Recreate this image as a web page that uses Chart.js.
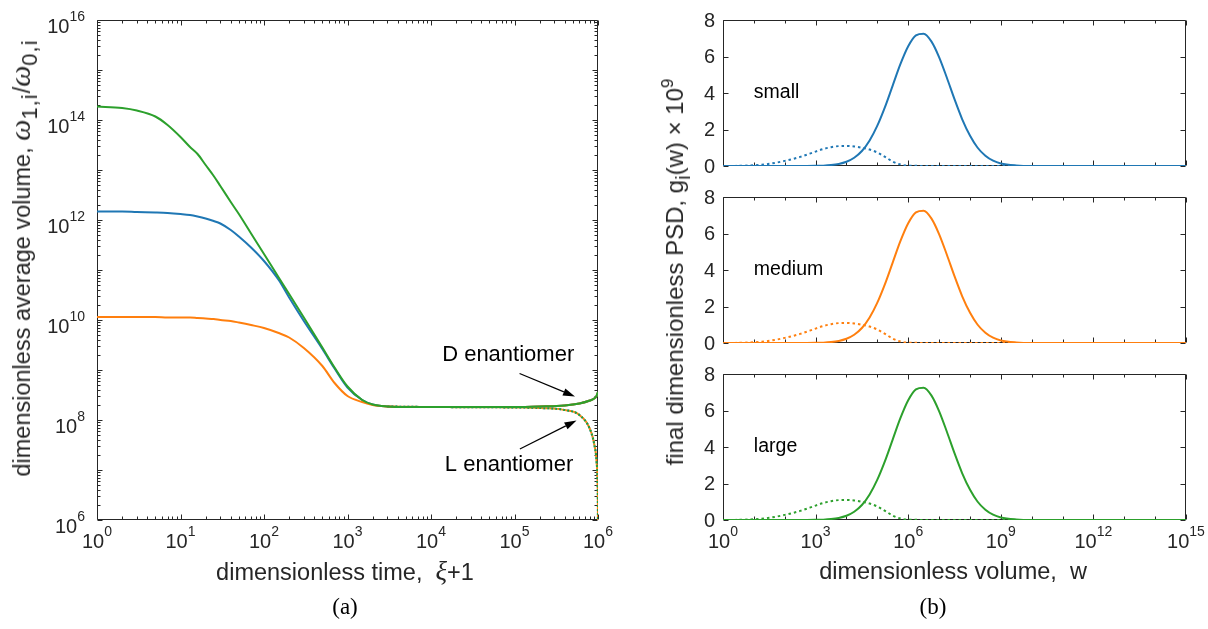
<!DOCTYPE html>
<html>
<head>
<meta charset="utf-8">
<title>Average volume and final PSD</title>
<script src="https://cdn.jsdelivr.net/npm/chart.js@4.4.1/dist/chart.umd.min.js"></script>
<style>
  html, body { margin: 0; background: #fff; }
  body { position: relative; width: 1208px; height: 629px; overflow: hidden;
         font-family: "Liberation Sans", Arial, sans-serif; color: #262626; }
  canvas { position: absolute; left: 0; top: 0; }
  .txt { position: absolute; white-space: nowrap; font-size: 23.5px; line-height: 26px;
         transform: translate(-50%, -50%); }
  .up { transform: translate(-50%, -50%) rotate(-90deg); }
  .gk { font-family: "Liberation Serif", serif; font-style: italic; font-size: 27px; }
  .big .gk { font-size: 30px; }
  .txt sub { font-size: 20px; line-height: 0; vertical-align: -7px; }
  .big sub { font-size: 22px; letter-spacing: 1px; }
  .txt sup { font-size: 17px; line-height: 0; vertical-align: 10px; }
  .cap { position: absolute; font-family: "Liberation Serif", "DejaVu Serif", serif; font-size: 23px;
         color: #000; transform: translate(-50%, -50%); }
</style>
</head>
<body>
<canvas id="avgVolume" width="1208" height="629"></canvas>
<canvas id="psdSmall" width="1208" height="629"></canvas>
<canvas id="psdMedium" width="1208" height="629"></canvas>
<canvas id="psdLarge" width="1208" height="629"></canvas>

<div class="txt up big" style="left:21px; top:258px">dimensionless average volume, <span class="gk">ω</span><sub>1,i</sub>/<span class="gk">ω</span><sub>0,i</sub></div>
<div class="txt" style="left:345px; top:571px">dimensionless time,&nbsp; <span class="gk">ξ</span>+1</div>
<div class="cap" style="left:345px; top:607px">(a)</div>

<div class="txt up" style="left:675px; top:272px; font-size:24px">final dimensionless PSD, g<sub>i</sub>(w) × 10<sup>9</sup></div>
<div class="txt" style="left:953px; top:571px">dimensionless volume,&nbsp; w</div>
<div class="cap" style="left:933px; top:607px">(b)</div>

<script>
// (a) time axis, ξ+1
const tempo = [1, 2, 3, 5, 7, 10, 13, 16, 20, 25, 30, 40, 50, 70, 100, 150, 200, 300, 500, 700,
  1e3, 1.5e3, 2e3, 3e3, 5e3, 1e4, 1e5, 2e5, 4e5, 6e5, 8e5, 9e5, 9.6e5, 1e6];

// log10 of ω1/ω0 for the D enantiomer, one list per seed size
const volSmall = [12.17, 12.17, 12.16, 12.15, 12.14, 12.12, 12.1, 12.07, 12.03, 11.98, 11.93, 11.8, 11.67, 11.45,
  11.18, 10.8, 10.45, 9.98, 9.42, 9.03, 8.65, 8.4, 8.31, 8.27, 8.26, 8.26, 8.26, 8.27, 8.29, 8.33, 8.39, 8.43, 8.48, 8.56];
const volMedium = [10.06, 10.06, 10.06, 10.06, 10.05, 10.05, 10.05, 10.04, 10.03, 10.02, 10.0, 9.98, 9.95, 9.9,
  9.84, 9.74, 9.65, 9.44, 9.08, 8.74, 8.48, 8.36, 8.3, 8.27, 8.26, 8.26, 8.26, 8.27, 8.29, 8.33, 8.39, 8.43, 8.48, 8.56];
const volLarge = [14.27, 14.24, 14.19, 14.07, 13.9, 13.66, 13.46, 13.32, 13.1, 12.88, 12.68, 12.36, 12.12, 11.73,
  11.32, 10.85, 10.52, 10.05, 9.45, 9.05, 8.67, 8.4, 8.31, 8.27, 8.26, 8.26, 8.26, 8.27, 8.29, 8.33, 8.39, 8.43, 8.48, 8.56];

// L enantiomer: same as D until the end, then it collapses (log10 values)
const tempoL = [3e3, 1e4, 1e5, 2e5, 4e5, 6e5, 8e5, 9e5, 9.6e5, 9.9e5, 9.97e5, 1e6];
const volL = [8.27, 8.26, 8.25, 8.24, 8.2, 8.1, 7.82, 7.52, 7.18, 6.7, 6.3, 5.5];

const timeTicks = [1, 10, 1e2, 1e3, 1e4, 1e5, 1e6];
const avgVolumeTicks = [1e6, 1e8, 1e10, 1e12, 1e14, 1e16];

// (b) volume grid as log10(w), and the two final PSDs (×1e9)
const volumeExp = [0, 0.5, 1, 1.5, 2, 2.5, 3, 3.25, 3.5, 3.75, 4, 4.25, 4.5, 4.75, 5, 5.25, 5.5, 5.75, 6,
  6.25, 6.5, 6.75, 7, 7.25, 7.5, 7.75, 8, 8.25, 8.5, 8.75, 9, 9.5, 10, 11, 12, 13, 14, 15];
const psdD = [0, 0, 0, 0, 0, 0, 0.01, 0.02, 0.05, 0.11, 0.23, 0.45, 0.82, 1.4, 2.21, 3.24, 4.42, 5.59, 6.56,
  7.16, 7.25, 6.83, 5.97, 4.85, 3.66, 2.56, 1.67, 1.0, 0.56, 0.29, 0.14, 0.03, 0, 0, 0, 0, 0, 0];
const psdL = [0, 0.01, 0.04, 0.12, 0.28, 0.5, 0.79, 0.93, 1.03, 1.09, 1.1, 1.07, 1.0, 0.9, 0.74, 0.5, 0.24, 0.08, 0.02,
  0.01, 0, 0, 0, 0, 0, 0, 0, 0, 0, 0, 0, 0, 0, 0, 0, 0, 0, 0];

const psdVolumeTicks = [1, 1e3, 1e6, 1e9, 1e12, 1e15];
const psdTicks = [0, 2, 4, 6, 8];

const seeds = ['small', 'medium', 'large'];
const cores = ['#1f77b4', '#ff7f0e', '#2ca02c'];

// annotation text and arrows, in data units of panel (a)
const notas = ['D enantiomer', 'L enantiomer'];
const notaPos = [[8.4e4, 2.0e9], [8.6e4, 1.26e7]];
const setaDe = [[1.15e5, 8.5e8], [1.16e5, 2.63e7]];
const setaAte = [[5.3e5, 2.95e8], [5.53e5, 9.77e7]];

const sans = '"Liberation Sans", Arial, Helvetica, sans-serif';
const eixo = '#262626';

function decadas(de, ate) {
  const out = [];
  for (let e = de; e <= ate; e++) out.push(10 ** e);
  return out;
}

function menores(de, ate) {
  const out = [];
  for (let e = de; e < ate; e++) for (let k = 2; k <= 9; k++) out.push(k * 10 ** e);
  return out;
}

function potencia(ctx, exp, x, base, align) {
  ctx.font = `20px ${sans}`;
  const bw = ctx.measureText('10').width;
  ctx.font = `14px ${sans}`;
  const ew = ctx.measureText(String(exp)).width;
  const left = align === 'right' ? x - bw - ew : x - (bw + ew) / 2;
  ctx.textAlign = 'left';
  ctx.textBaseline = 'alphabetic';
  ctx.font = `20px ${sans}`;
  ctx.fillText('10', left, base);
  ctx.font = `14px ${sans}`;
  ctx.fillText(String(exp), left + bw, base - 12);
}

function seta(ctx, x0, y0, x1, y1) {
  const ang = Math.atan2(y1 - y0, x1 - x0), head = 12, half = 3.8;
  const bx = x1 - head * Math.cos(ang), by = y1 - head * Math.sin(ang);
  ctx.beginPath();
  ctx.moveTo(x0, y0);
  ctx.lineTo(bx, by);
  ctx.stroke();
  ctx.beginPath();
  ctx.moveTo(x1, y1);
  ctx.lineTo(bx + half * Math.sin(ang), by - half * Math.cos(ang));
  ctx.lineTo(bx - half * Math.sin(ang), by + half * Math.cos(ang));
  ctx.closePath();
  ctx.fill();
}

// box, inward ticks on all four sides, tick labels and annotations
const moldura = {
  id: 'moldura',
  beforeDatasetsDraw(chart, args, o) {
    const { ctx, chartArea: a, scales: { x, y } } = chart;
    const L = a.left + 0.5, R = a.right - 0.5, T = a.top + 0.5, B = a.bottom - 0.5;
    ctx.save();
    ctx.strokeStyle = eixo;
    ctx.lineWidth = 1;
    ctx.beginPath();
    ctx.rect(L, T, R - L, B - T);
    const xt = (vals, len) => vals.forEach(v => {
      const p = Math.round(x.getPixelForValue(v)) + 0.5;
      ctx.moveTo(p, B); ctx.lineTo(p, B - len);
      ctx.moveTo(p, T); ctx.lineTo(p, T + len);
    });
    const yt = (vals, len) => vals.forEach(v => {
      const p = Math.round(y.getPixelForValue(v)) + 0.5;
      ctx.moveTo(L, p); ctx.lineTo(L + len, p);
      ctx.moveTo(R, p); ctx.lineTo(R - len, p);
    });
    xt(o.xMajor, 5); xt(o.xMinor || [], 3);
    yt(o.yMajor, 5); yt(o.yMinor || [], 3);
    ctx.stroke();
    ctx.restore();
  },
  afterDraw(chart, args, o) {
    const { ctx, chartArea: a, scales: { x, y } } = chart;
    ctx.save();
    ctx.fillStyle = eixo;
    (o.xLabels || []).forEach(v =>
      potencia(ctx, Math.round(Math.log10(v)), x.getPixelForValue(v), a.bottom + 28, 'center'));
    if (o.yLog) {
      o.yLabels.forEach(v =>
        potencia(ctx, Math.round(Math.log10(v)), a.left - 12, y.getPixelForValue(v) + 13, 'right'));
    } else {
      ctx.font = `20px ${sans}`;
      ctx.textAlign = 'right';
      ctx.textBaseline = 'middle';
      o.yLabels.forEach(v => ctx.fillText(String(v), a.left - 8, y.getPixelForValue(v) + 1));
    }
    ctx.fillStyle = '#000';
    ctx.strokeStyle = '#000';
    ctx.lineWidth = 1.2;
    (o.notas || []).forEach(n => {
      ctx.font = `${n.size}px ${sans}`;
      ctx.textAlign = n.align;
      ctx.textBaseline = 'middle';
      ctx.fillText(n.text, x.getPixelForValue(n.at[0]), y.getPixelForValue(n.at[1]));
      if (n.from) seta(ctx, x.getPixelForValue(n.from[0]), y.getPixelForValue(n.from[1]),
        x.getPixelForValue(n.to[0]), y.getPixelForValue(n.to[1]));
    });
    ctx.restore();
  }
};

const comum = {
  responsive: false,
  animation: false,
  events: [],
  elements: { point: { radius: 0 }, line: { borderWidth: 2, cubicInterpolationMode: 'monotone' } }
};

// (a) average volume against time
const pontos = (ts, logs) => ts.map((t, i) => ({ x: t, y: 10 ** logs[i] }));
const volumes = [volSmall, volMedium, volLarge];
const linhasD = [2, 1, 0].map(i => ({ data: pontos(tempo, volumes[i]), borderColor: cores[i] }));
const linhasL = [2, 1, 0].map(i => ({
  data: pontos(tempoL, volL), borderColor: cores[i], borderDash: [2, 2], borderDashOffset: i === 1 ? 2 : 0
}));

new Chart(document.getElementById('avgVolume'), {
  type: 'line',
  data: { datasets: [...linhasD, ...linhasL] },
  options: {
    ...comum,
    layout: { padding: { left: 97, top: 20, right: 1208 - 598, bottom: 629 - 520 } },
    scales: {
      x: { type: 'logarithmic', min: 1, max: 1e6, display: false },
      y: { type: 'logarithmic', min: 1e6, max: 1e16, display: false }
    },
    plugins: {
      legend: { display: false },
      tooltip: { enabled: false },
      moldura: {
        xMajor: timeTicks, xMinor: menores(0, 6), xLabels: timeTicks,
        yMajor: decadas(6, 16), yMinor: menores(6, 16), yLabels: avgVolumeTicks, yLog: true,
        notas: notas.map((t, i) => ({ text: t, at: notaPos[i], from: setaDe[i], to: setaAte[i], size: 22, align: 'center' }))
      }
    }
  },
  plugins: [moldura]
});

// (b) final PSD, one small panel per seed size
const psdIds = ['psdSmall', 'psdMedium', 'psdLarge'];
const psdTop = [20, 197, 374];
const psdPontos = vals => volumeExp.map((e, i) => ({ x: 10 ** e, y: vals[i] }));
const menoresPsd = decadas(1, 14).filter(v => Math.round(Math.log10(v)) % 3 !== 0);

seeds.forEach((nome, i) => {
  new Chart(document.getElementById(psdIds[i]), {
    type: 'line',
    data: {
      datasets: [
        { data: psdPontos(psdD), borderColor: cores[i] },
        { data: psdPontos(psdL), borderColor: cores[i], borderDash: [2.5, 3] }
      ]
    },
    options: {
      ...comum,
      layout: { padding: { left: 723, top: psdTop[i], right: 1208 - 1186, bottom: 629 - psdTop[i] - 146 } },
      scales: {
        x: { type: 'logarithmic', min: 1, max: 1e15, display: false },
        y: { type: 'linear', min: 0, max: 8, display: false }
      },
      plugins: {
        legend: { display: false },
        tooltip: { enabled: false },
        moldura: {
          xMajor: psdVolumeTicks, xMinor: menoresPsd, xLabels: i === 2 ? psdVolumeTicks : [],
          yMajor: psdTicks, yLabels: psdTicks, yLog: false,
          notas: [{ text: nome, at: [10, 4], size: 19.5, align: 'left' }]
        }
      }
    },
    plugins: [moldura]
  });
});
</script>
</body>
</html>
